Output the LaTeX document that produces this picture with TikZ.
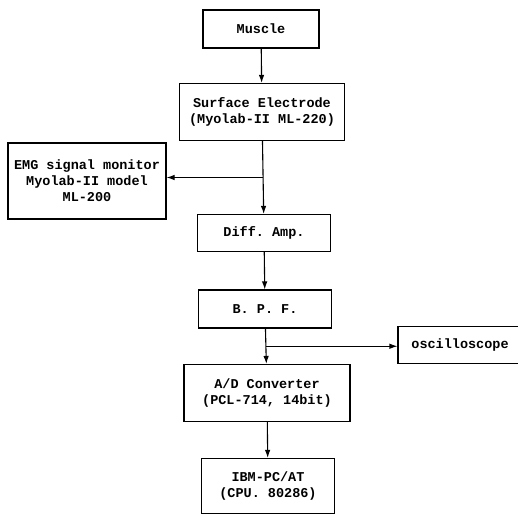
\documentclass[tikz,border=0pt]{standalone}
\usepackage{fontspec}
\setmonofont{Liberation Mono}
\usetikzlibrary{positioning, calc, arrows.meta}

\begin{document}
\begin{tikzpicture}[
  x=1pt, y=-1pt,
  font=\fontsize{13.5}{16}\selectfont\ttfamily\bfseries,
  blk/.style={
    draw, line width=1.1pt, minimum width=#1, align=center, inner sep=2pt
  },
  arr/.style={-{Latex[length=8pt,width=5.5pt]}, line width=1.1pt}
]
\useasboundingbox (0,0) rectangle (518,514);

\node[blk=116pt, minimum height=38pt] (mus) at (261, 29) {Muscle};
\node[blk=165pt, minimum height=57pt] (se)  at (262, 112) {Surface Electrode\\(Myolab-II ML-220)};
\node[blk=158pt, minimum height=76pt] (emg) at (87, 181) {EMG signal monitor\\Myolab-II model\\ML-200};
\node[blk=133pt, minimum height=37pt] (da)  at (264, 233) {Diff. Amp.};
\node[blk=133pt, minimum height=38pt] (bpf) at (265, 309) {B. P. F.};
\node[blk=124pt, minimum height=37pt] (osc) at (460, 345) {oscilloscope};
\node[blk=166pt, minimum height=57pt] (ad)  at (267, 393) {A/D Converter\\(PCL-714, 14bit)};
\node[blk=133pt, minimum height=55pt] (pc)  at (268, 486) {IBM-PC/AT\\(CPU. 80286)};

% branch points
\coordinate (j1) at ($(se.south)!0.5!(da.north)$);
\coordinate (j2) at ($(bpf.south)!0.5!(ad.north)$);

\draw[arr] (mus) -- (se);
\draw[arr] (se) -- (da);
\draw[arr] (j1) -- (j1 -| emg.east);
\draw[arr] (da) -- (bpf);
\draw[arr] (bpf) -- (ad);
\draw[arr] (j2) -- (j2 -| osc.west);
\draw[arr] (ad) -- (pc);

\end{tikzpicture}
\end{document}
